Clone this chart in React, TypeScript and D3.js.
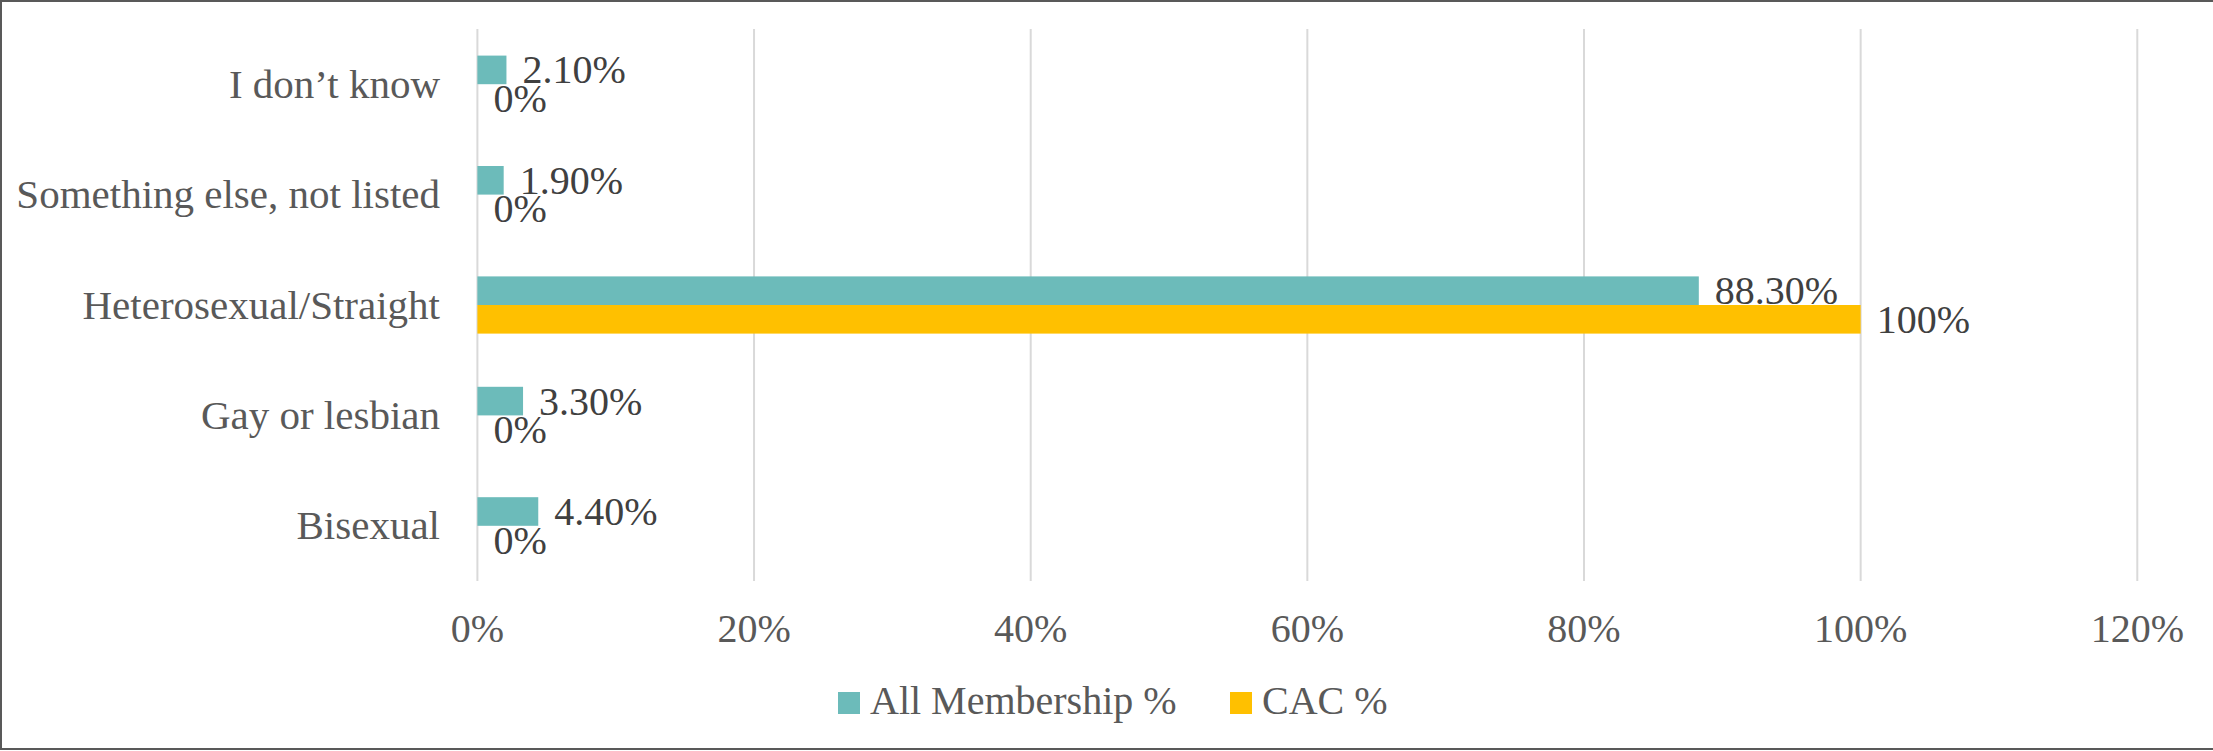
import React from 'react';
import * as d3 from 'd3';

const categories = [
  'I don’t know',
  'Something else, not listed',
  'Heterosexual/Straight',
  'Gay or lesbian',
  'Bisexual',
];
const seriesNames = ['All Membership %', 'CAC %'];
const allMembership = [2.1, 1.9, 88.3, 3.3, 4.4];
const cac = [0, 0, 100, 0, 0];
const xTicks = [0, 20, 40, 60, 80, 100, 120];

const colors = ['#6cbbba', '#ffc000'];
const W = 2213;
const H = 751;
const FONT = '"Liberation Serif", "Times New Roman", serif';

const App: React.FC = () => {
  const x = d3.scaleLinear().domain([0, 120]).range([477.4, 2137.3]);
  const y = d3.scaleBand<string>().domain(categories).range([29, 581]);
  // excel-ish gap width ~93%
  const groupH = y.step() / 1.93;
  const inner = d3
    .scaleBand<string>()
    .domain(seriesNames)
    .range([(y.step() - groupH) / 2, (y.step() + groupH) / 2]);

  const series = [
    { name: seriesNames[0], values: allMembership, fmt: (v: number) => d3.format('.2f')(v) + '%' },
    { name: seriesNames[1], values: cac, fmt: (v: number) => d3.format('.0f')(v) + '%' },
  ];

  const legendItems = [
    { name: seriesNames[0], x: 838, textX: 870 },
    { name: seriesNames[1], x: 1230, textX: 1262 },
  ];

  return (
    <svg
      width={W}
      height={H}
      style={{ position: 'absolute', left: 0, top: 0, background: '#fff' }}
      fontFamily={FONT}
    >
      <rect x={1} y={1} width={W + 4} height={H - 3} fill="#fff" stroke="#595959" strokeWidth={2} />

      {/* gridlines */}
      {xTicks.map((t) => (
        <line
          key={t}
          x1={x(t)}
          x2={x(t)}
          y1={29}
          y2={581}
          stroke="#d9d9d9"
          strokeWidth={2}
        />
      ))}

      {/* bars */}
      {series.map((s, si) =>
        categories.map((c, ci) => {
          const top = (y(c) ?? 0) + (inner(s.name) ?? 0);
          const h = inner.bandwidth();
          const v = s.values[ci];
          return (
            <g key={s.name + c}>
              <rect x={x(0)} y={top} width={x(v) - x(0)} height={h} fill={colors[si]} />
              <text
                x={x(v) + 16}
                y={top + h / 2 + 13.5}
                fontSize={40}
                fill="#404040"
              >
                {s.fmt(v)}
              </text>
            </g>
          );
        })
      )}

      {/* category labels */}
      {categories.map((c) => (
        <text
          key={c}
          x={440}
          y={(y(c) ?? 0) + y.step() / 2 + 13.5}
          textAnchor="end"
          fontSize={41}
          fill="#595959"
        >
          {c}
        </text>
      ))}

      {/* x tick labels */}
      {xTicks.map((t) => (
        <text key={t} x={x(t)} y={642} textAnchor="middle" fontSize={40} fill="#595959">
          {t + '%'}
        </text>
      ))}

      {/* legend */}
      {legendItems.map((l, i) => (
        <g key={l.name}>
          <rect x={l.x} y={692} width={22} height={22} fill={colors[i]} />
          <text x={l.textX} y={714} fontSize={40} fill="#595959">
            {l.name}
          </text>
        </g>
      ))}
    </svg>
  );
};

export default App;
